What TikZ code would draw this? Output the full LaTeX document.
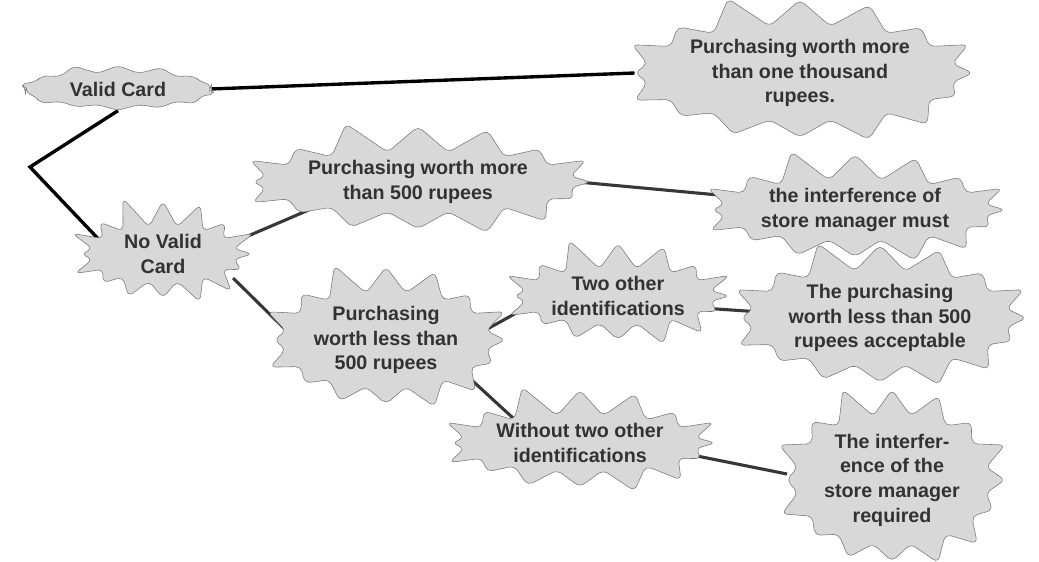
\documentclass[tikz,border=0pt]{standalone}
\usepackage{fontspec}
\setmainfont{Liberation Sans}
\usepackage{xcolor}
\usepackage{tikz}
\usetikzlibrary{
  shapes.symbols,
  backgrounds
}
\definecolor{burstfill}{RGB}{216,216,216}
\definecolor{burstline}{RGB}{120,120,120}
\definecolor{bursttext}{RGB}{50,50,50}
\definecolor{linkgrey}{RGB}{55,55,55}

\begin{document}
\begin{tikzpicture}[
  x=0.025cm,y=-0.025cm,
  burst/.style={starburst,starburst points=16,starburst point height=0.85cm,
                random starburst=11,rounded corners=4pt,draw=burstline,
                fill=burstfill,text=bursttext,align=center,inner sep=0pt,
                font=\bfseries\fontsize{14}{17.5}\selectfont},
  link/.style={line width=2.2pt,draw=linkgrey},
  cardlink/.style={line width=2.4pt,draw=black},
]
\useasboundingbox (0,0) rectangle (1039,561);

\node[burst,starburst points=14,starburst point height=0.25cm,
      minimum width=5.1cm,minimum height=1.3cm] (vc) at (118,89) {Valid Card};
\node[burst,minimum width=9.2cm,minimum height=2.9cm] (thou) at (800,73)
     {Purchasing worth more\\than one thousand\\rupees.};
\node[burst,minimum width=9cm,minimum height=3cm]     (more) at (418,182)
     {Purchasing worth more\\than 500 rupees};
\node[burst,minimum width=7.3cm,minimum height=3cm]   (must) at (855,210)
     {the interference of\\store manager must};
\node[burst,minimum width=5.3cm,minimum height=2.5cm] (nvc)  at (163,254)
     {No Valid\\Card};
\node[burst,minimum width=6cm,minimum height=3cm]     (less) at (386,340)
     {Purchasing\\worth less than\\500 rupees};
\node[burst,minimum width=5.2cm,minimum height=2.9cm] (two)  at (618,296)
     {Two other\\identifications};
\node[burst,minimum width=6cm,minimum height=3.3cm]   (acc)  at (880,318)
     {The purchasing\\worth less than 500\\rupees acceptable};
\node[burst,minimum width=5.6cm,minimum height=2.9cm] (wo)   at (580,443)
     {Without two other\\identifications};
\node[burst,minimum width=5.6cm,minimum height=4.1cm] (req)  at (892,480)
     {The interfer-\\ence of the\\store manager\\required};

\coordinate (bend) at (30,167);

\begin{scope}[on background layer]
\draw[cardlink] (vc.east) -- (thou.west);
\draw[cardlink] (vc.south) -- (bend) -- ([shift={(28,-4)}]nvc.west);
\draw[link] ([shift={(85,-18)}]nvc.center) -- ([shift={(-65,9)}]more.center);
\draw[link] ([shift={(70,24)}]nvc.center) -- ([shift={(-89,1)}]less.center);
\draw[link] ([shift={(160,0)}]more.center) -- ([shift={(-115,-13)}]must.center);
\draw[link] ([shift={(94,-7)}]less.center) -- ([shift={(-60,-6)}]two.center);
\draw[link] ([shift={(55,10)}]two.center) -- ([shift={(-90,-4)}]acc.center);
\draw[link] ([shift={(66,22)}]less.center) -- ([shift={(-67,-25)}]wo.center);
\draw[link] ([shift={(72,4)}]wo.center) -- ([shift={(-105,-6)}]req.center);
\end{scope}
\end{tikzpicture}
\end{document}
